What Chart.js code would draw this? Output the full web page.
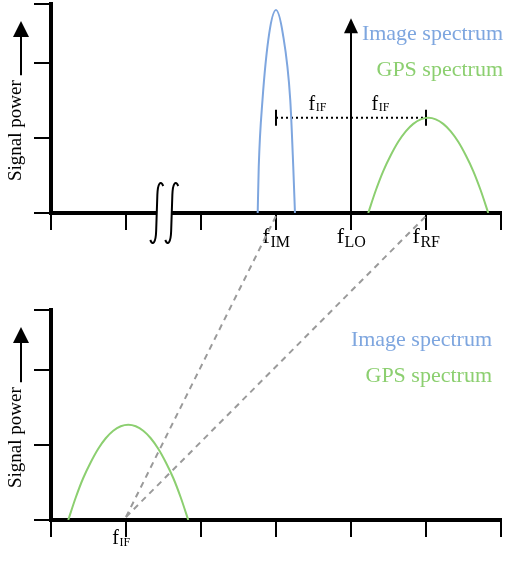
<!DOCTYPE html>
<html>
<head>
<meta charset="utf-8">
<script src="https://cdn.jsdelivr.net/npm/chart.js@4"></script>
<style>
    html, body { margin: 0; padding: 0; background: #fff; }
    #wrap { position: relative; width: 509px; height: 561px; }
    #wrap canvas { display: block; }
    #box-top { position: absolute; left: 0; top: 0; }
    #box-bot { position: absolute; left: 0; top: 265px; }
    #overlay { position: absolute; left: 0; top: 0; pointer-events: none; }
</style>
</head>
<body>
<div id="wrap">
    <div id="box-top"><canvas id="chart-top" width="509" height="265"></canvas></div>
    <div id="box-bot"><canvas id="chart-bot" width="509" height="296"></canvas></div>
    <canvas id="overlay" width="509" height="561"></canvas>
</div>
<script>
// ==================== DATA ====================
const X_TICKS = [0, 1, 2, 3, 4, 5, 6];
const Y_TICKS = [0, 1, 2];
const Y_MAX_TOP = 2.79;
const Y_MAX_BOT = 2.8;

// Image band around f_IM (RF side)
const IMAGE_X = [2.756, 2.77, 2.82, 2.91, 3.0, 3.09, 3.19, 3.23, 3.253];
const IMAGE_Y = [0, 0.62, 1.51, 2.40, 2.71, 2.40, 1.51, 0.62, 0];

// GPS band around f_RF
const GPS_RF_X = [4.23, 4.33, 4.43, 4.53, 4.63, 4.73, 4.83, 4.93, 5.03, 5.13, 5.23, 5.33, 5.43, 5.53, 5.63, 5.73, 5.83];
const GPS_RF_Y = [0, 0.30, 0.56, 0.77, 0.95, 1.09, 1.19, 1.25, 1.27, 1.25, 1.19, 1.09, 0.95, 0.77, 0.56, 0.30, 0];

// GPS band after mixing, around f_IF
const GPS_IF_X = [0.23, 0.33, 0.43, 0.53, 0.63, 0.73, 0.83, 0.93, 1.03, 1.13, 1.23, 1.33, 1.43, 1.53, 1.63, 1.73, 1.83];
const GPS_IF_Y = [0, 0.30, 0.56, 0.77, 0.95, 1.09, 1.19, 1.25, 1.27, 1.25, 1.19, 1.09, 0.95, 0.77, 0.56, 0.30, 0];

const F_IF = 1;
const F_IM = 3;
const F_LO = 4;
const F_RF = 5;
const LO_ARROW_TOP = 2.6;
const IF_SPAN_Y = 1.27;
const IF_SPAN_LABEL_X = [3.55, 4.39];
const AXIS_BREAK_X = [1.41, 1.61];
const MIX_TARGETS = [F_IM, F_RF];

const RF_TICK_LABELS = [
    { x: F_IM, sub: 'IM' },
    { x: F_LO, sub: 'LO' },
    { x: F_RF, sub: 'RF' },
];

const LABEL_IMAGE = 'Image spectrum';
const LABEL_GPS = 'GPS spectrum';
const AXIS_TITLE = 'Signal power';

// ==================== STYLE ====================
const SERIF = '"Liberation Serif", "Times New Roman", serif';
const BLUE = '#7ea6df';
const GREEN = '#8ccf70';
const GREY = '#9a9a9a';

function puntos(xs, ys) {
    return xs.map((x, i) => ({ x, y: ys[i] }));
}

// "f" con subíndice, centrado en x
function textoSub(ctx, x, y, sub, mainPx, subPx, drop) {
    ctx.font = `${mainPx}px ${SERIF}`;
    const w1 = ctx.measureText('f').width;
    ctx.font = `${subPx}px ${SERIF}`;
    const w2 = ctx.measureText(sub).width;
    const left = x - (w1 + w2) / 2;
    ctx.fillStyle = '#000';
    ctx.textAlign = 'left';
    ctx.textBaseline = 'alphabetic';
    ctx.font = `${mainPx}px ${SERIF}`;
    ctx.fillText('f', left, y);
    ctx.font = `${subPx}px ${SERIF}`;
    ctx.fillText(sub, left + w1 + 0.5, y + drop);
}

function flecha(ctx, x, yTip, half, len) {
    ctx.beginPath();
    ctx.moveTo(x, yTip);
    ctx.lineTo(x - half, yTip + len);
    ctx.lineTo(x + half, yTip + len);
    ctx.closePath();
    ctx.fill();
}

// ==================== PLUGINS ====================
const tituloPotencia = {
    id: 'tituloPotencia',
    afterDraw(chart) {
        const { ctx, chartArea } = chart;
        const x = 21;
        const start = chartArea.bottom - 32;
        ctx.save();
        ctx.font = `19px ${SERIF}`;
        const w = ctx.measureText(AXIS_TITLE).width;
        ctx.translate(x, start);
        ctx.rotate(-Math.PI / 2);
        ctx.fillStyle = '#000';
        ctx.textAlign = 'left';
        ctx.textBaseline = 'alphabetic';
        ctx.fillText(AXIS_TITLE, 0, 0);
        ctx.restore();

        const tip = chartArea.top + 17;
        ctx.save();
        ctx.strokeStyle = '#000';
        ctx.fillStyle = '#000';
        ctx.lineWidth = 2;
        ctx.beginPath();
        ctx.moveTo(x, start - w - 5);
        ctx.lineTo(x, tip + 12);
        ctx.stroke();
        flecha(ctx, x, tip, 8, 16);
        ctx.restore();
    },
};

const leyendaEsquina = {
    id: 'leyendaEsquina',
    afterDraw(chart, args, opts) {
        const { ctx, chartArea } = chart;
        ctx.save();
        ctx.font = `22px ${SERIF}`;
        ctx.textAlign = 'right';
        ctx.textBaseline = 'alphabetic';
        chart.data.datasets.filter(d => d.label).forEach((d, i) => {
            ctx.fillStyle = d.borderColor;
            ctx.fillText(d.label, chartArea.right + opts.dx, chartArea.top + 36 + i * 36);
        });
        ctx.restore();
    },
};

const decoradoRF = {
    id: 'decoradoRF',
    afterDraw(chart) {
        const { ctx } = chart;
        const sx = chart.scales.x;
        const sy = chart.scales.y;
        const y0 = sy.getPixelForValue(0);
        ctx.save();

        // corte del eje (dos marcas de integral)
        const [b1, b2] = AXIS_BREAK_X.map(v => sx.getPixelForValue(v));
        ctx.fillStyle = '#fff';
        ctx.fillRect(b1, y0 - 3, b2 - b1, 6);
        ctx.strokeStyle = '#000';
        ctx.lineWidth = 2;
        [b1, b2].forEach(cx => {
            ctx.beginPath();
            ctx.moveTo(cx + 6.5, y0 - 27);
            ctx.bezierCurveTo(cx + 4, y0 - 33, cx + 1, y0 - 30, cx + 0.6, y0 - 18);
            ctx.lineTo(cx - 0.6, y0 + 18);
            ctx.bezierCurveTo(cx - 1, y0 + 30, cx - 4, y0 + 33, cx - 6.5, y0 + 27);
            ctx.stroke();
        });

        // eje del oscilador local
        const xl = sx.getPixelForValue(F_LO);
        const yt = sy.getPixelForValue(LO_ARROW_TOP);
        ctx.fillStyle = '#000';
        ctx.beginPath();
        ctx.moveTo(xl, y0);
        ctx.lineTo(xl, yt + 12);
        ctx.stroke();
        flecha(ctx, xl, yt, 7, 15);

        // etiquetas de frecuencia
        RF_TICK_LABELS.forEach(l => {
            textoSub(ctx, sx.getPixelForValue(l.x), y0 + 30, l.sub, 22, 16, 4);
        });

        const yIf = sy.getPixelForValue(IF_SPAN_Y);
        IF_SPAN_LABEL_X.forEach(v => {
            textoSub(ctx, sx.getPixelForValue(v), yIf - 8, 'IF', 20, 12, 1);
        });
        ctx.restore();
    },
};

const decoradoIF = {
    id: 'decoradoIF',
    afterDraw(chart) {
        const { ctx } = chart;
        const x = chart.scales.x.getPixelForValue(F_IF);
        const y0 = chart.scales.y.getPixelForValue(0);
        ctx.save();
        textoSub(ctx, x - 5, y0 + 24, 'IF', 20, 12, 2);
        ctx.restore();
    },
};

// ==================== CHARTS ====================
function ejes(yMax, xHeight) {
    const grid = {
        drawOnChartArea: false,
        drawTicks: true,
        tickLength: 17,
        lineWidth: 2,
        tickWidth: 2,
        color: '#000',
        tickColor: '#000',
    };
    const border = { display: true, width: 4, color: '#000' };
    return {
        x: {
            type: 'linear',
            min: 0,
            max: 6,
            afterBuildTicks: s => { s.ticks = X_TICKS.map(v => ({ value: v })); },
            afterFit: s => { s.height = xHeight; },
            ticks: { display: false },
            grid,
            border,
        },
        y: {
            type: 'linear',
            min: 0,
            max: yMax,
            afterBuildTicks: s => { s.ticks = [...Y_TICKS, yMax].map(v => ({ value: v })); },
            afterFit: s => { s.width = 51; },
            ticks: { display: false },
            grid,
            border,
        },
    };
}

function curva(label, color, data) {
    return {
        label,
        data,
        borderColor: color,
        borderWidth: 2,
        pointRadius: 0,
        fill: false,
        cubicInterpolationMode: 'monotone',
    };
}

function opciones(yMax, xHeight, padTop, legendDx) {
    return {
        responsive: false,
        animation: false,
        events: [],
        layout: { autoPadding: false, padding: { top: padTop, right: 8, left: 0, bottom: 0 } },
        scales: ejes(yMax, xHeight),
        plugins: {
            legend: { display: false },
            tooltip: { enabled: false },
            leyendaEsquina: { dx: legendDx },
        },
    };
}

const chartTop = new Chart(document.getElementById('chart-top'), {
    type: 'line',
    data: {
        datasets: [
            curva(LABEL_IMAGE, BLUE, puntos(IMAGE_X, IMAGE_Y)),
            curva(LABEL_GPS, GREEN, puntos(GPS_RF_X, GPS_RF_Y)),
            {
                data: [{ x: F_IM, y: IF_SPAN_Y }, { x: F_RF, y: IF_SPAN_Y }],
                borderColor: '#000',
                borderWidth: 2,
                borderDash: [2, 3],
                pointStyle: 'line',
                rotation: 90,
                pointRadius: 8,
                pointBorderWidth: 2,
                pointBorderColor: '#000',
            },
        ],
    },
    options: opciones(Y_MAX_TOP, 52, 4, 2),
    plugins: [tituloPotencia, leyendaEsquina, decoradoRF],
});

const chartBot = new Chart(document.getElementById('chart-bot'), {
    type: 'line',
    data: {
        datasets: [
            curva(LABEL_IMAGE, BLUE, []),
            curva(LABEL_GPS, GREEN, puntos(GPS_IF_X, GPS_IF_Y)),
        ],
    },
    options: opciones(Y_MAX_BOT, 41, 45, -9),
    plugins: [tituloPotencia, leyendaEsquina, decoradoIF],
});

// líneas de mezcla: f_IF abajo hacia f_IM y f_RF arriba
function dibujarMezcla() {
    const ctx = document.getElementById('overlay').getContext('2d');
    const offBot = document.getElementById('box-bot').offsetTop;
    const x0 = chartBot.scales.x.getPixelForValue(F_IF);
    const y0 = chartBot.scales.y.getPixelForValue(0) + offBot;
    ctx.strokeStyle = GREY;
    ctx.lineWidth = 2;
    ctx.setLineDash([6, 5]);
    MIX_TARGETS.forEach(v => {
        ctx.beginPath();
        ctx.moveTo(x0, y0 - 3);
        ctx.lineTo(chartTop.scales.x.getPixelForValue(v), chartTop.scales.y.getPixelForValue(0) + 3);
        ctx.stroke();
    });
}

dibujarMezcla();
</script>
</body>
</html>
